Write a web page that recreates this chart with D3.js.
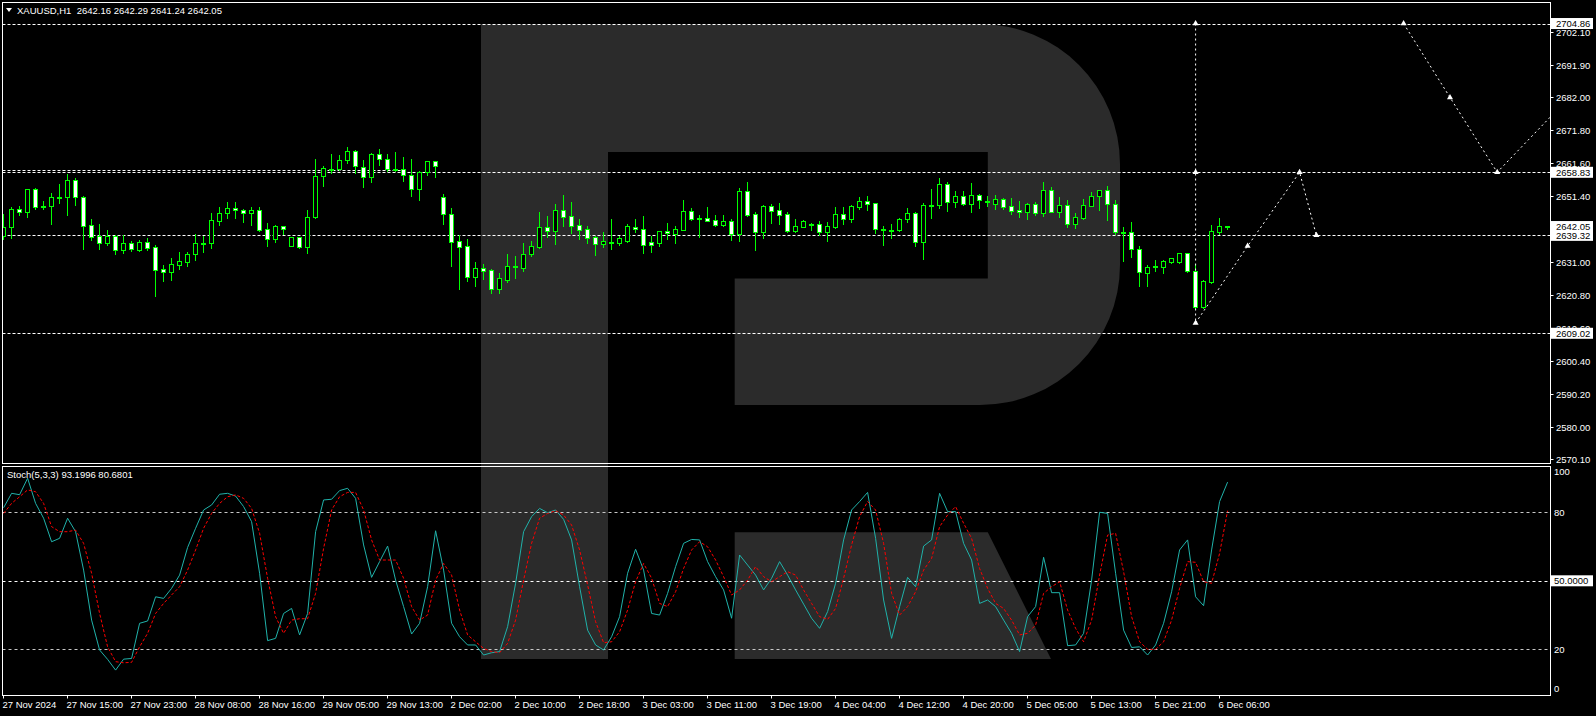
<!DOCTYPE html>
<html><head><meta charset="utf-8">
<script src="https://cdn.jsdelivr.net/npm/d3@7"></script>
<style>html,body{margin:0;padding:0;background:#000;overflow:hidden}text{font-family:"Liberation Sans",Arial,sans-serif}</style>
</head><body>
<svg id="c" width="1596" height="716"></svg>
<script>
// ---------------- DATA ----------------
const symbolTitle = "XAUUSD,H1";
const lastOHLC = ["2642.16","2642.29","2641.24","2642.05"];
const stochTitle = "Stoch(5,3,3) 93.1996 80.6801";

const open = [
2639.1,2642.0,2647.6,2646.6,2653.6,2648.3,2648.5,2651.1,2651.1,2656.3,
2651.1,2642.4,2639.1,2637.1,2639.1,2634.7,2636.9,2634.7,2637.3,2635.6,
2628.8,2628.1,2630.3,2631.2,2633.4,2637.0,2637.1,2643.9,2646.1,2647.7,
2647.1,2646.1,2647.2,2641.3,2638.1,2642.1,2636.1,2638.7,2635.8,2644.9,
2657.6,2659.9,2659.8,2662.5,2665.3,2660.6,2657.3,2664.4,2662.8,2659.8,
2660.0,2657.9,2653.6,2658.8,2662.2,2651.1,2645.8,2637.5,2635.9,2626.5,
2629.1,2628.5,2622.8,2625.6,2629.6,2629.3,2633.4,2635.8,2641.8,2640.8,
2647.1,2645.2,2642.4,2641.2,2638.7,2636.7,2637.2,2637.1,2637.7,2642.0,
2641.2,2637.2,2637.1,2640.6,2639.8,2641.1,2646.8,2644.7,2644.8,2644.0,
2642.6,2643.7,2639.8,2653.0,2645.8,2640.3,2648.4,2647.1,2645.8,2640.8,
2642.0,2642.6,2642.7,2640.5,2641.9,2645.8,2644.5,2648.2,2649.9,2649.2,
2641.3,2641.0,2641.0,2644.3,2646.1,2637.2,2648.7,2648.8,2655.1,2649.7,
2651.4,2649.1,2651.7,2650.0,2648.9,2650.5,2648.3,2647.1,2646.5,2648.9,
2646.3,2653.3,2646.6,2648.6,2642.9,2644.8,2648.5,2651.4,2653.3,2648.9,
2640.3,2640.3,2635.0,2627.8,2629.6,2629.6,2631.2,2631.2,2633.8,2628.4,
2617.3,2625.0,2640.5,2642.16];
const high = [
2645.9,2648.0,2648.4,2653.7,2653.9,2650.0,2652.4,2655.2,2658.3,2657.0,
2651.5,2644.4,2642.8,2641.0,2639.3,2639.3,2637.6,2637.9,2638.5,2636.2,
2630.2,2632.3,2634.2,2634.2,2639.6,2639.2,2646.2,2648.1,2649.6,2649.6,
2647.5,2648.1,2648.1,2643.0,2642.5,2642.2,2638.9,2638.9,2647.2,2663.0,
2660.8,2664.5,2664.2,2666.7,2665.7,2662.6,2664.8,2666.0,2664.5,2665.1,
2663.6,2663.0,2659.1,2662.3,2662.3,2652.1,2647.8,2639.3,2638.2,2631.1,
2630.5,2628.8,2627.6,2633.5,2632.9,2637.0,2637.5,2646.5,2645.3,2649.0,
2651.8,2649.6,2644.4,2642.1,2639.1,2640.4,2644.5,2639.0,2642.7,2644.4,
2645.3,2639.1,2640.7,2643.1,2642.2,2650.3,2647.7,2645.6,2648.0,2645.6,
2645.6,2644.3,2654.0,2655.8,2646.5,2648.7,2649.0,2649.3,2646.5,2644.4,
2644.1,2643.1,2643.8,2643.3,2648.1,2648.1,2648.6,2651.2,2651.5,2649.3,
2642.1,2642.8,2644.7,2647.7,2646.5,2649.3,2653.7,2657.0,2655.8,2653.0,
2653.0,2655.5,2652.1,2651.5,2651.8,2651.0,2650.9,2649.9,2649.3,2649.6,
2655.8,2654.3,2651.2,2650.3,2646.1,2650.6,2652.7,2653.4,2654.6,2650.3,
2641.8,2643.5,2636.0,2630.0,2631.7,2631.7,2632.4,2634.0,2634.0,2630.4,
2625.5,2642.5,2644.7,2642.29];
const low = [
2638.1,2638.6,2645.7,2645.1,2647.6,2647.6,2642.8,2649.4,2645.7,2648.8,
2635.2,2637.9,2635.2,2636.4,2633.7,2634.0,2634.5,2634.6,2634.9,2620.7,
2625.3,2625.5,2629.0,2629.9,2631.8,2634.3,2635.5,2642.6,2644.8,2644.8,
2643.6,2642.6,2640.8,2636.1,2637.4,2639.6,2636.0,2635.5,2634.0,2644.8,
2654.7,2658.5,2659.5,2661.6,2658.5,2654.4,2655.9,2661.2,2659.1,2659.1,
2656.2,2651.6,2650.4,2657.9,2657.5,2642.9,2629.9,2622.7,2625.2,2623.7,
2625.9,2621.5,2621.5,2624.9,2626.1,2628.3,2632.9,2635.4,2638.8,2636.6,
2642.2,2640.0,2638.3,2637.1,2633.2,2635.7,2635.1,2636.3,2637.3,2640.5,
2633.9,2634.2,2636.0,2638.2,2637.0,2641.0,2644.1,2638.9,2643.8,2642.2,
2642.3,2637.9,2637.6,2645.3,2634.8,2638.6,2643.1,2642.8,2640.4,2640.5,
2641.8,2641.0,2639.5,2637.6,2641.6,2642.9,2643.5,2647.6,2647.2,2639.9,
2636.3,2638.5,2640.8,2643.3,2636.0,2632.1,2644.8,2647.9,2647.0,2648.1,
2648.8,2646.7,2647.8,2648.4,2647.5,2647.5,2646.0,2645.0,2644.4,2645.6,
2645.4,2646.5,2644.9,2642.0,2641.6,2644.5,2648.3,2647.2,2644.1,2639.7,
2631.4,2632.7,2623.5,2623.5,2628.4,2627.6,2630.9,2630.9,2628.1,2616.7,
2616.7,2624.7,2639.8,2641.24];
const close = [
2642.0,2647.6,2646.6,2653.6,2648.2,2648.4,2651.1,2651.2,2656.3,2651.3,
2642.3,2638.9,2637.1,2639.1,2634.7,2636.9,2635.2,2637.3,2635.5,2628.7,
2628.1,2630.4,2631.3,2633.5,2636.9,2637.1,2644.1,2646.1,2647.7,2647.1,
2646.1,2647.2,2641.1,2638.1,2642.1,2641.2,2638.7,2635.8,2644.9,2657.6,
2660.1,2660.0,2662.5,2665.3,2660.8,2657.3,2664.5,2662.8,2659.8,2659.9,
2658.0,2653.6,2659.0,2662.2,2660.7,2645.8,2637.4,2635.8,2626.5,2629.2,
2628.4,2622.8,2626.0,2629.7,2629.7,2633.5,2635.9,2641.8,2640.8,2647.1,
2645.1,2642.3,2641.1,2638.6,2636.7,2637.6,2637.3,2638.4,2642.1,2641.2,
2636.4,2636.4,2640.6,2639.9,2641.2,2646.8,2644.5,2644.8,2643.9,2642.6,
2643.7,2639.8,2653.0,2645.7,2640.3,2648.4,2647.0,2645.7,2640.8,2642.1,
2643.7,2642.7,2640.5,2642.1,2645.8,2644.5,2648.3,2649.9,2649.1,2641.4,
2641.4,2641.1,2644.4,2646.1,2637.2,2648.6,2648.8,2655.1,2649.7,2651.5,
2649.1,2651.8,2650.2,2650.1,2650.5,2648.2,2647.0,2646.5,2648.9,2646.3,
2653.3,2646.6,2648.6,2642.9,2644.9,2648.6,2651.4,2653.3,2648.9,2640.3,
2640.2,2635.0,2627.9,2629.5,2629.7,2631.3,2632.2,2633.8,2628.4,2617.3,
2625.2,2640.7,2642.1,2642.05];

const stochK = [
82.0,88.3,87.7,94.9,83.9,77.4,67.1,68.6,77.4,71.5,
54.7,32.8,19.7,15.6,10.9,15.7,16.0,31.4,32.4,43.0,
42.3,46.7,52.5,64.6,73.0,81.0,83.2,87.9,88.3,87.1,
82.5,75.9,53.3,23.8,24.8,35.7,37.9,26.3,35.7,71.5,
85.4,85.7,89.5,90.5,86.1,65.7,51.5,58.4,65.2,50.3,
38.7,26.7,31.4,47.4,71.9,54.7,31.4,25.5,21.9,21.9,
17.5,18.5,19.0,29.9,48.9,71.5,78.1,81.7,79.8,81.0,
76.9,67.9,47.4,28.4,21.9,19.7,25.5,34.3,53.3,63.8,
54.7,35.7,35.0,44.5,56.2,66.4,68.1,67.9,58.4,51.8,
46.0,33.6,61.3,56.9,52.5,46.0,51.1,58.4,52.5,46.0,
39.8,33.6,29.2,36.5,48.9,67.9,81.0,84.7,88.7,68.6,
41.6,24.8,38.7,51.5,47.4,65.2,67.9,88.3,80.3,80.3,
66.4,59.1,40.1,41.6,38.7,32.8,27.0,19.0,34.3,38.7,
60.3,44.8,44.8,21.6,21.9,27.0,50.3,80.0,79.5,53.3,
28.4,20.8,21.1,17.5,21.9,31.4,45.2,63.5,67.9,43.0,
39.1,63.5,84.7,93.1996];
const stochD = [
79.5,83.9,86.8,89.8,89.0,83.9,73.7,71.5,71.5,72.2,
66.4,53.3,35.7,21.1,14.6,14.1,14.3,21.1,27.0,35.7,
40.1,43.8,47.4,54.7,63.5,73.0,79.5,83.9,86.8,87.6,
86.1,81.7,70.8,51.1,34.3,27.0,32.8,33.4,33.4,44.5,
64.2,81.0,86.8,88.7,88.7,81.0,67.9,59.1,59.1,59.1,
51.1,38.7,32.8,35.0,50.3,57.6,52.5,37.2,26.3,23.3,
20.4,19.0,18.5,22.6,32.8,50.3,66.4,77.4,79.5,80.7,
78.8,74.4,63.5,48.2,32.1,22.9,23.3,27.7,37.2,49.6,
57.6,51.1,40.1,38.7,45.2,55.4,63.5,67.1,64.9,59.1,
51.8,43.8,46.0,50.3,56.2,51.8,49.6,51.8,54.0,52.5,
46.0,40.1,34.3,33.1,37.9,51.1,65.7,78.1,84.7,81.0,
66.4,44.5,35.0,38.7,45.2,54.7,59.8,73.7,78.8,82.5,
75.2,68.6,55.4,46.7,40.1,37.9,32.8,26.3,27.0,30.6,
44.5,47.4,49.6,37.2,29.2,23.3,32.8,52.5,70.0,70.8,
54.0,34.3,23.3,20.0,20.0,23.3,32.8,46.7,58.4,58.1,
49.6,48.9,62.0,80.6801];

const timeLabels = ["27 Nov 2024","27 Nov 15:00","27 Nov 23:00","28 Nov 08:00","28 Nov 16:00","29 Nov 05:00","29 Nov 13:00","2 Dec 02:00","2 Dec 10:00","2 Dec 18:00","3 Dec 03:00","3 Dec 11:00","3 Dec 19:00","4 Dec 04:00","4 Dec 12:00","4 Dec 20:00","5 Dec 05:00","5 Dec 13:00","5 Dec 21:00","6 Dec 06:00"];
const barsPerLabel = 8;
const priceTicks = ["2702.10","2691.90","2682.00","2671.80","2661.60","2651.40","2631.00","2620.80","2610.60","2600.40","2590.20","2580.00","2570.10"];
const levelLines = [2704.86, 2658.83, 2639.32, 2609.02];
const shortLine = {price: 2659.5, toBar: 50.4};
const boxLabels = ["2704.86","2658.83","2642.05","2639.32","2609.02"];
const stochLevels = [80, 50, 20];
const stochTicks = ["100","80","20","0"];
const stochBox = "50.0000";

// forecast drawing: [bar index, price]
const forecastVertical = [[149, 2704.86], [149, 2612.2]];
const forecastPathA = [[149, 2612.2], [155.5, 2636.0], [162, 2658.83], [164.1, 2639.32]];
const forecastPathB = [[175, 2704.86], [180.8, 2682.0], [186.7, 2658.83], [196, 2682.8]];
const forecastMarks = [[149, 2704.86],[149, 2658.83],[149, 2612.2],[155.5, 2636.0],[162, 2658.83],[164.1, 2639.32],[175, 2704.86],[180.8, 2682.0],[186.7, 2658.83]];

// ---------------- CHART ----------------
const W = 1596, H = 716;
const L = 2.5, R = 1550.5, mainTop = 2.5, mainBot = 463.5, stTop = 466.5, stBot = 695.5;
const svg = d3.select('#c');
svg.append('rect').attr('width', W).attr('height', H).attr('fill', '#000');

const x = d3.scaleLinear().domain([0, 153]).range([3.6, 3.6 + 8 * 153]);
const y = d3.scaleLinear().domain([2568.89, 2711.21]).range([463, 3]);
const yS = d3.scaleLinear().domain([0, 100]).range([695, 466.6]);

const defs = svg.append('defs');
defs.append('clipPath').attr('id', 'cm').append('rect').attr('x', L).attr('y', mainTop).attr('width', R - L).attr('height', mainBot - mainTop);
defs.append('clipPath').attr('id', 'cs').append('rect').attr('x', L).attr('y', stTop).attr('width', R - L).attr('height', stBot - stTop);

// watermark "R" logo
svg.append('path')
  .attr('d', 'M481,24 H980 A140,140 0 0 1 1120,164 V265 A140,140 0 0 1 980,405 H734.7 V278.5 H987.8 V152 H608 V659 H481 Z M734.7,532.3 H987.8 L1051,659 H734.7 Z')
  .attr('fill', '#2b2b2b');

// ---- main panel ----
const gm = svg.append('g').attr('clip-path', 'url(#cm)');

levelLines.forEach(p => {
  const yy = Math.round(y(p)) + 0.5;
  gm.append('line').attr('x1', L).attr('x2', R).attr('y1', yy).attr('y2', yy)
    .attr('stroke', '#fff').attr('stroke-dasharray', '3,2');
});
{
  const yy = Math.round(y(shortLine.price)) + 0.5;
  gm.append('line').attr('x1', L).attr('x2', x(shortLine.toBar)).attr('y1', yy).attr('y2', yy)
    .attr('stroke', '#fff').attr('stroke-dasharray', '3,2');
}

// candles
const idx = d3.range(open.length);
const cg = gm.append('g');
idx.forEach(i => {
  const cx = Math.round(x(i));
  cg.append('line').attr('x1', cx - 0.5).attr('x2', cx - 0.5)
    .attr('y1', Math.round(y(high[i]))).attr('y2', Math.round(y(low[i])) + 1)
    .attr('stroke', '#00ff00').attr('stroke-width', 1);
  const top = Math.round(y(Math.max(open[i], close[i])));
  const bot = Math.round(y(Math.min(open[i], close[i])));
  const bull = close[i] >= open[i];
  cg.append('rect').attr('x', cx - 2.5).attr('width', 4)
    .attr('y', top + 0.5).attr('height', Math.max(1, bot - top))
    .attr('fill', bull ? '#000' : '#fff').attr('stroke', '#00ff00').attr('stroke-width', 1);
});

// forecast drawings
const fl = d3.line().x(d => x(d[0])).y(d => y(d[1]));
[forecastVertical, forecastPathA, forecastPathB].forEach(pts => {
  gm.append('path').attr('d', fl(pts)).attr('fill', 'none').attr('stroke', '#fff')
    .attr('stroke-width', 1).attr('stroke-dasharray', '2,3');
});
forecastMarks.forEach(d => {
  gm.append('path').attr('d', d3.symbol().type(d3.symbolTriangle).size(16)())
    .attr('transform', `translate(${x(d[0])},${y(d[1])})`).attr('fill', '#fff');
});

// header
svg.append('path').attr('d', 'M6,8 L12,8 L9,12 Z').attr('fill', '#fff');
svg.append('text').attr('x', 17).attr('y', 14).attr('fill', '#fff').attr('font-size', 9.5)
  .style('white-space', 'pre').text(symbolTitle + '  ' + lastOHLC.join(' '));

// ---- stoch panel ----
const gs = svg.append('g').attr('clip-path', 'url(#cs)');
stochLevels.forEach(v => {
  const yy = Math.round(yS(v)) + 0.5;
  gs.append('line').attr('x1', L).attr('x2', R).attr('y1', yy).attr('y2', yy)
    .attr('stroke', v === 50 ? '#ffffff' : '#c8c8c8').attr('stroke-dasharray', '3,3');
});
const sl = d3.line().x((d, i) => x(i)).y(d => yS(d));
gs.append('path').attr('d', sl(stochK)).attr('fill', 'none').attr('stroke', '#20b2aa').attr('stroke-width', 1);
gs.append('path').attr('d', sl(stochD)).attr('fill', 'none').attr('stroke', '#ff0000').attr('stroke-width', 1).attr('stroke-dasharray', '3,2');
svg.append('text').attr('x', 7).attr('y', 478).attr('fill', '#fff').attr('font-size', 9.5).text(stochTitle);

// ---- frames ----
const fr = svg.append('g').attr('fill', 'none').attr('stroke', '#fff').attr('stroke-width', 1);
fr.append('rect').attr('x', L).attr('y', mainTop).attr('width', R - L).attr('height', mainBot - mainTop);
fr.append('rect').attr('x', L).attr('y', stTop).attr('width', R - L).attr('height', stBot - stTop);

// ---- price axis ----
const ax = svg.append('g');
priceTicks.forEach(t => {
  const yy = Math.round(y(+t)) + 0.5;
  ax.append('line').attr('x1', R).attr('x2', R + 3).attr('y1', yy).attr('y2', yy).attr('stroke', '#fff');
  ax.append('text').attr('x', 1556).attr('y', yy + 3.5).attr('fill', '#fff').attr('font-size', 9.5).text(t);
});
boxLabels.forEach(t => {
  const yy = y(+t);
  ax.append('rect').attr('x', 1551).attr('y', yy - 5.5).attr('width', 42).attr('height', 11).attr('fill', '#fff');
  ax.append('text').attr('x', 1556).attr('y', yy + 3.5).attr('fill', '#000').attr('font-size', 9.5).text(t);
});

// stoch axis
stochTicks.forEach(t => {
  const v = +t;
  let yy = yS(v);
  if (v === 100) yy += 5;
  if (v === 0) yy -= 7;
  ax.append('text').attr('x', 1554).attr('y', yy + 3.5).attr('fill', '#fff').attr('font-size', 9.5).text(t);
});
{
  const yy = yS(50);
  ax.append('rect').attr('x', 1551).attr('y', yy - 5.5).attr('width', 42).attr('height', 11).attr('fill', '#fff');
  ax.append('text').attr('x', 1554).attr('y', yy + 3.5).attr('fill', '#000').attr('font-size', 9.5).text(stochBox);
}

// time axis
timeLabels.forEach((t, k) => {
  const xx = Math.round(x(k * barsPerLabel)) - 0.5;
  ax.append('line').attr('x1', xx).attr('x2', xx).attr('y1', stBot).attr('y2', stBot + 3).attr('stroke', '#fff');
  ax.append('text').attr('x', xx - 1).attr('y', 708).attr('fill', '#fff').attr('font-size', 9.5).text(t);
});
</script>
</body></html>
